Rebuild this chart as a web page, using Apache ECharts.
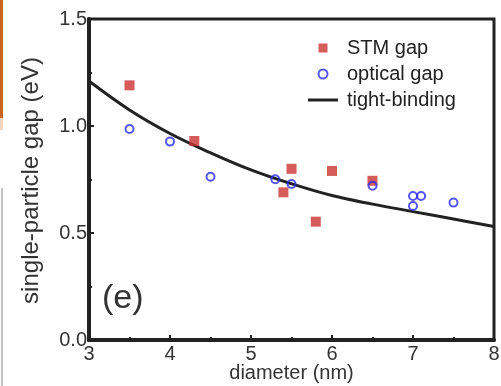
<!DOCTYPE html>
<html>
<head>
<meta charset="utf-8">
<script src="https://cdn.jsdelivr.net/npm/echarts@6/dist/echarts.min.js"></script>
<style>
  html, body { margin: 0; padding: 0; background: #fff; }
  #chart { width: 501px; height: 386px; }
</style>
</head>
<body>
<div id="chart"></div>
<script>
// Scanning tunnelling spectroscopy gaps
const stmDiameter = [3.5, 4.3, 5.4, 5.5, 5.8, 6.0, 6.5];
const stmGap      = [1.19, 0.93, 0.69, 0.80, 0.553, 0.79, 0.744];

// Optical absorption gaps
const opticalDiameter = [3.5, 4.0, 4.5, 5.3, 5.5, 6.5, 7.0, 7.1, 7.0, 7.5];
const opticalGap      = [0.986, 0.927, 0.763, 0.751, 0.729, 0.721, 0.673, 0.673, 0.626, 0.642];

// Tight-binding prediction
const tbDiameter = [3.0, 3.5, 4.0, 4.5, 5.0, 5.5, 6.0, 6.5, 7.0, 7.5, 8.0];
const tbGap      = [1.21, 1.075, 0.965, 0.875, 0.795, 0.73, 0.675, 0.635, 0.60, 0.565, 0.53];

const xTicks = [3, 4, 5, 6, 7, 8];
const yTicks = ['0.0', '0.5', '1.0', '1.5'];

const zip = (xs, ys) => xs.map((x, i) => [x, ys[i]]);

const FONT = 'Liberation Sans, Arial, Helvetica, sans-serif';
const INK = '#222';
const TEXT = '#333';

const chart = echarts.init(document.getElementById('chart'), null, { renderer: 'canvas' });

chart.setOption({
  animation: false,
  backgroundColor: '#fff',
  textStyle: { fontFamily: FONT },
  grid: {
    left: 89, top: 19, width: 405, height: 321,
    containLabel: false, outerBoundsMode: 'none',
    show: true, borderColor: INK, borderWidth: 3, backgroundColor: 'transparent'
  },
  xAxis: {
    type: 'value', min: xTicks[0], max: xTicks[xTicks.length - 1], interval: 1,
    axisLine: { show: true, onZero: false, lineStyle: { color: INK, width: 4 } },
    axisTick: { show: true, inside: true, length: 5, lineStyle: { color: INK, width: 2 } },
    minorTick: { show: true, splitNumber: 2, length: 3, lineStyle: { color: INK, width: 2 } },
    splitLine: { show: false },
    axisLabel: { color: TEXT, fontSize: 20, fontFamily: FONT, margin: 4 },
    name: 'diameter (nm)', nameLocation: 'middle', nameGap: 23, nameMoveOverlap: false,
    nameTextStyle: { color: TEXT, fontSize: 20, fontFamily: FONT }
  },
  yAxis: {
    type: 'value', min: 0, max: 1.5, interval: 0.5,
    axisLine: { show: true, onZero: false, lineStyle: { color: INK, width: 4 } },
    axisTick: { show: true, inside: true, length: 5, lineStyle: { color: INK, width: 2 } },
    minorTick: { show: true, splitNumber: 2, length: 3, lineStyle: { color: INK, width: 2 } },
    splitLine: { show: false },
    axisLabel: {
      color: TEXT, fontSize: 20, fontFamily: FONT, margin: 2,
      formatter: (v) => yTicks[Math.round(v / 0.5)]
    },
    name: 'single-particle gap (eV)', nameLocation: 'middle', nameGap: 46, nameRotate: 90,
    nameMoveOverlap: false,
    nameTextStyle: { color: TEXT, fontSize: 24, fontFamily: FONT, padding: [0, 2, 0, 0] }
  },
  legend: {
    orient: 'vertical', left: 303, top: 33,
    itemWidth: 30, itemHeight: 9, itemGap: 6,
    textStyle: { color: INK, fontSize: 20, fontFamily: FONT, lineHeight: 20, padding: [0, 0, 0, 4] },
    data: [
      { name: 'STM gap', icon: 'path://M0,0H10V10H0Z' },
      { name: 'optical gap', icon: 'circle' },
      { name: 'tight-binding', icon: 'path://M0,0H30V3H0Z' }
    ]
  },
  graphic: [
    { type: 'text', left: 102, top: 282, style: { text: '(e)', fontSize: 34, fontFamily: FONT, fill: TEXT } },
    { type: 'rect', shape: { x: 0, y: 0, width: 3, height: 118 }, style: { fill: '#c8641e' } },
    { type: 'rect', shape: { x: 0, y: 118, width: 3, height: 12 }, style: { fill: '#f3d6be' } },
    { type: 'rect', shape: { x: 1, y: 188, width: 2, height: 198 }, style: { fill: '#c4c4c4' } }
  ],
  series: [
    {
      name: 'tight-binding', type: 'line', smooth: 0.4, symbol: 'none',
      data: zip(tbDiameter, tbGap), z: 2,
      lineStyle: { color: INK, width: 3 }, itemStyle: { color: INK }
    },
    {
      name: 'STM gap', type: 'scatter', symbol: 'rect', symbolSize: 10,
      data: zip(stmDiameter, stmGap), z: 3,
      itemStyle: { color: '#cc3333' }
    },
    {
      name: 'optical gap', type: 'scatter', symbol: 'circle', symbolSize: 8,
      data: zip(opticalDiameter, opticalGap), z: 4,
      itemStyle: { color: 'rgba(255,255,255,0)', borderColor: '#2a2af0', borderWidth: 2 }
    }
  ]
});
</script>
</body>
</html>
